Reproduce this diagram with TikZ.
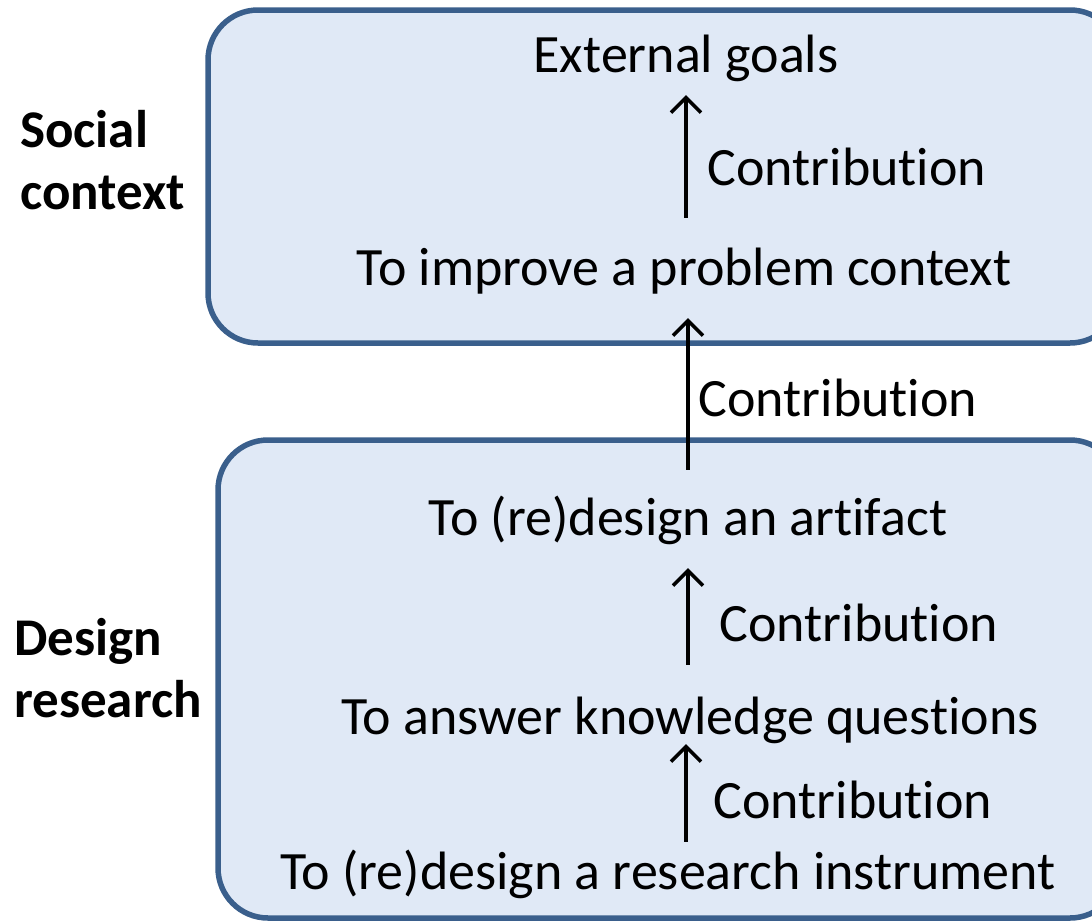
\documentclass[tikz,border=0pt]{standalone}
\usepackage{fontspec}
\setmainfont[Ligatures={NoCommon}]{Carlito}
\usetikzlibrary{arrows.meta}

\definecolor{boxline}{RGB}{58,95,140}
\definecolor{boxfill}{RGB}{224,233,246}

\begin{document}
\begin{tikzpicture}[
    x=1pt, y=-1pt,
    panel/.style={draw=boxline, line width=5.5pt, fill=boxfill, rounded corners=50pt},
    goal/.style={anchor=base, inner sep=0pt, text height=34pt, text depth=10pt,
      font=\fontsize{54}{64}\selectfont},
    side/.style={anchor=base west, align=left, inner sep=0pt,
      font=\fontsize{53}{62}\selectfont\bfseries},
    contrib/.style={line width=3.5pt, -{Straight Barb[length=15pt,width=30pt,line width=3.5pt]}},
    tag/.style={right, inner sep=0pt, xshift=20pt, font=\fontsize{54}{64}\selectfont},
  ]
  \useasboundingbox (0,0) rectangle (1092,921);
  % the two contexts
  \draw[panel] (208,10) rectangle (1120,343);
  \draw[panel] (218,440) rectangle (1120,918);

  \node[side] (social) at (20,147) {Social};
  \node[side] (context) at (20,209) {context};
  \node[side] (design) at (14,655) {Design};
  \node[side] (research) at (14,717) {research};

  % goals
  \node[goal] (goals) at (686,72) {External goals};
  \node[goal] (improve) at (684,285) {To improve a problem context};
  \node[goal] (artifact) at (688,535) {To (re)design an artifact};
  \node[goal] (knowledge) at (690,734) {To answer knowledge questions};
  \node[goal] (instrument) at (668,889) {To (re)design a research instrument};

  % contributions
  \draw[contrib, shorten <=33pt, shorten >=13pt] (improve.north -| goals.south) -- (goals.south)
    node[tag, midway] {Contribution};
  \draw[contrib, shorten <=31pt, shorten >=23pt] (artifact.north) -- (improve.south -| artifact.north)
    node[tag, midway, xshift=-11pt] {Contribution};
  \draw[contrib, shorten <=35pt, shorten >=23pt] (knowledge.north -| artifact.south) -- (artifact.south)
    node[tag, midway, xshift=10pt] {Contribution};
  \draw[contrib, shorten <=13pt, shorten >=0pt] (instrument.north -| goals.south) -- (knowledge.south -| goals.south)
    node[tag, midway, xshift=6pt] {Contribution};
\end{tikzpicture}
\end{document}
